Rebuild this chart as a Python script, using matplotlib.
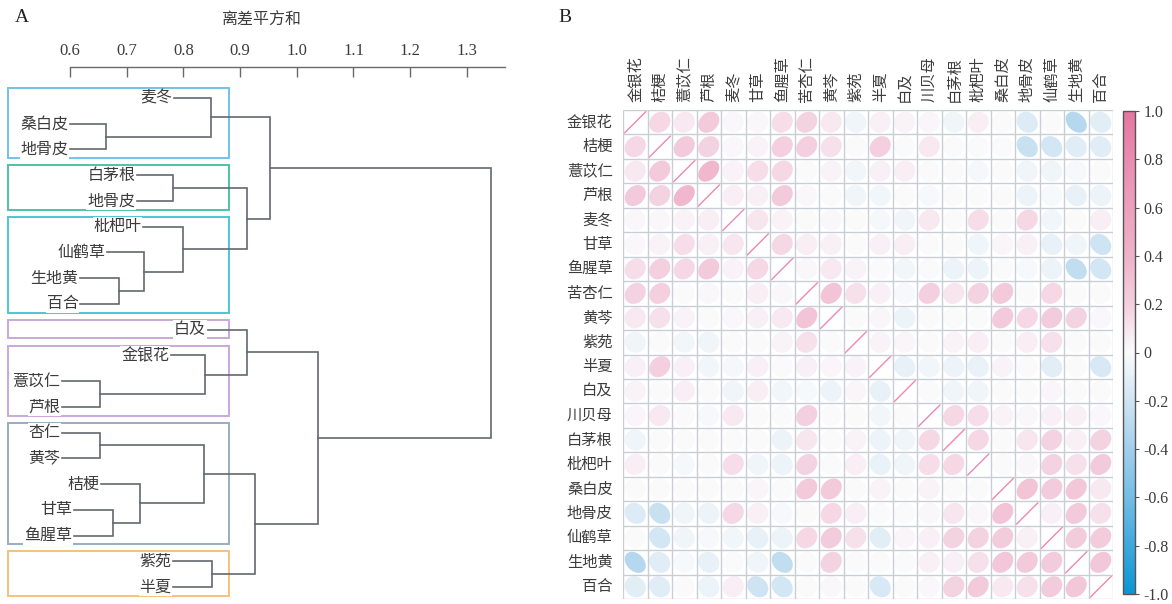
import numpy as np
import matplotlib
matplotlib.use("Agg")
import matplotlib.pyplot as plt
from matplotlib.colors import LinearSegmentedColormap, Normalize
from matplotlib.patches import Polygon, Rectangle
from matplotlib.cm import ScalarMappable

plt.rcParams['font.family'] = ['Noto Sans CJK SC', 'DejaVu Sans']

# ---------------- data: cluster dendrogram (panel A) ----------------
leaf_labels = ["麦冬", "桑白皮", "地骨皮", "白茅根", "地骨皮", "枇杷叶", "仙鹤草",
               "生地黄", "百合", "白及", "金银花", "薏苡仁", "芦根", "杏仁", "黄芩",
               "桔梗", "甘草", "鱼腥草", "紫苑", "半夏"]
leaf_start = [0.783, 0.600, 0.600, 0.718, 0.718, 0.729, 0.665, 0.618, 0.618,
              0.843, 0.778, 0.586, 0.586, 0.586, 0.586, 0.655, 0.607, 0.607,
              0.782, 0.782]
# linkage: node ids 0..19 are leaves, merge k creates node 20+k
merge_left = [1, 0, 3, 7, 6, 5, 22, 21, 11, 10, 9, 13, 16, 15, 31, 18, 34, 30, 27]
merge_right = [2, 20, 4, 8, 23, 24, 25, 26, 12, 28, 29, 14, 17, 32, 33, 19, 35, 36, 37]
merge_height = [0.663, 0.849, 0.782, 0.686, 0.730, 0.799, 0.912, 0.953, 0.653,
                0.838, 0.912, 0.653, 0.676, 0.723, 0.836, 0.850, 0.926, 1.037, 1.342]
scale_ticks = [0.6, 0.7, 0.8, 0.9, 1.0, 1.1, 1.2, 1.3]

# groups outlined by coloured frames (first leaf, last leaf)
group_first = [0, 3, 5, 9, 10, 13, 18]
group_last = [2, 4, 8, 9, 12, 17, 19]
group_colors = ["#72c2ea", "#4cc3a5", "#4ec5d2", "#c9a8da", "#c9a8da", "#9aacbf", "#f7c07c"]

# ---------------- data: correlation matrix (panel B) ----------------
herbs = ["金银花", "桔梗", "薏苡仁", "芦根", "麦冬", "甘草", "鱼腥草", "苦杏仁", "黄芩",
         "紫苑", "半夏", "白及", "川贝母", "白茅根", "枇杷叶", "桑白皮", "地骨皮",
         "仙鹤草", "生地黄", "百合"]
# upper triangle, row i holds columns i+1 .. 19
corr_upper = [
    [0.16, 0.08, 0.24, 0.02, 0.02, 0.14, 0.18, 0.08, -0.05, 0.05, 0.04, 0.03, -0.05, 0.06, 0.00, -0.14, 0.00, -0.32, -0.11],
    [0.24, 0.18, 0.02, 0.04, 0.20, 0.20, 0.12, 0.00, 0.20, 0.00, 0.08, 0.00, 0.00, 0.00, -0.23, -0.18, -0.12, -0.12],
    [0.36, 0.04, 0.14, 0.16, 0.00, 0.04, -0.04, 0.05, 0.06, 0.00, 0.00, -0.03, 0.00, -0.05, -0.05, -0.02, 0.00],
    [0.06, 0.05, 0.24, 0.02, 0.00, -0.05, -0.04, 0.00, -0.02, 0.00, 0.00, 0.00, -0.06, -0.02, -0.09, -0.07],
    [0.10, 0.04, 0.00, 0.02, 0.00, -0.03, -0.05, 0.08, 0.00, 0.14, 0.00, 0.16, -0.04, 0.00, 0.06],
    [0.16, 0.06, 0.05, 0.00, 0.05, 0.06, 0.00, 0.00, -0.05, 0.03, 0.05, -0.09, -0.05, -0.20],
    [0.02, 0.08, 0.04, 0.00, -0.04, 0.00, -0.06, -0.07, 0.00, -0.02, -0.06, -0.26, -0.18],
    [0.28, 0.12, 0.05, -0.02, 0.20, 0.10, 0.18, 0.24, 0.00, 0.16, 0.00, 0.00],
    [0.00, 0.03, -0.07, 0.00, 0.00, 0.00, 0.24, 0.16, 0.22, 0.18, 0.02],
    [0.04, 0.03, 0.00, 0.04, 0.06, 0.00, 0.06, 0.12, 0.00, 0.00],
    [-0.09, -0.04, -0.07, -0.08, 0.04, 0.00, -0.11, 0.00, -0.16],
    [0.00, -0.05, -0.05, 0.00, 0.00, 0.03, 0.00, 0.00],
    [0.16, 0.14, 0.04, 0.02, 0.05, 0.05, 0.02],
    [0.16, 0.00, 0.10, 0.18, 0.05, 0.18],
    [0.00, 0.02, 0.18, 0.12, 0.24],
    [0.28, 0.22, 0.26, 0.08],
    [0.05, 0.24, 0.12],
    [0.22, 0.22],
    [0.26],
]
cbar_ticks = [1.0, 0.8, 0.6, 0.4, 0.2, 0.0, -0.2, -0.4, -0.6, -0.8, -1.0]

# ---------------- figure ----------------
W, H = 1172, 604
fig = plt.figure(figsize=(W / 100, H / 100), dpi=100)


def px_axes(x0, y0, x1, y1):
    return fig.add_axes([x0 / W, 1 - y1 / H, (x1 - x0) / W, (y1 - y0) / H])


serif = ['Liberation Serif', 'DejaVu Serif']
text_color = "#3c3c3c"
line_color = "#63686d"

# ---------------- panel A ----------------
axd = px_axes(0, 67, 520, 604)
axd.set_xlim(0.4765, 1.3937)
axd.set_ylim(19.66, -1.204)
for s in ["left", "right", "bottom"]:
    axd.spines[s].set_visible(False)
axd.spines["top"].set_bounds(0.6, 1.367)
axd.spines["top"].set_color("#6a6a6a")
axd.spines["top"].set_linewidth(1.0)
axd.xaxis.tick_top()
axd.set_xticks(scale_ticks)
axd.set_xticklabels([f"{v:.1f}" for v in scale_ticks], family=serif, fontsize=12,
                    color=text_color)
axd.tick_params(axis="x", direction="in", length=7, width=1.0, color="#6a6a6a", pad=5.5)
axd.set_yticks([])

n = len(leaf_labels)
node_x = {i: leaf_start[i] for i in range(n)}
node_y = {i: float(i) for i in range(n)}
for k, (a, b, h) in enumerate(zip(merge_left, merge_right, merge_height)):
    ya, yb = node_y[a], node_y[b]
    axd.plot([node_x[a], h, h, node_x[b]], [ya, ya, yb, yb], color=line_color,
             lw=1.2, solid_joinstyle="miter", zorder=2, clip_on=False)
    node_x[n + k] = h
    node_y[n + k] = (ya + yb) / 2

box_x0, box_x1 = 0.4907, 0.8804
for f, l, c in zip(group_first, group_last, group_colors):
    axd.add_patch(Rectangle((box_x0, f - 0.38), box_x1 - box_x0, (l - f) + 0.72,
                            fill=False, ec=c, lw=1.4, zorder=1, clip_on=False))

for i, lab in enumerate(leaf_labels):
    axd.text(leaf_start[i] - 0.003, i, lab, ha="right", va="center", fontsize=11.5,
             color=text_color, zorder=3,
             bbox=dict(boxstyle="square,pad=0.05", fc="white", ec="none"))

fig.text(262 / W, 1 - 20 / H, "离差平方和", ha="center", va="center", fontsize=11.5,
         color=text_color)
fig.text(22 / W, 1 - 18 / H, "A", ha="center", va="center", fontsize=14,
         family=serif, color="#222222")

# ---------------- panel B ----------------
m = len(herbs)
C = np.eye(m)
for i, row in enumerate(corr_upper):
    for k, v in enumerate(row):
        j = i + 1 + k
        C[i, j] = v
        C[j, i] = v

cmap = LinearSegmentedColormap.from_list(
    "corr",
    [(0.0, "#0a95d5"), (0.1, "#3ea8de"), (0.2, "#74bee6"), (0.3, "#a2cfec"),
     (0.4, "#cfe4f2"), (0.5, "#fafbfc"), (0.6, "#f4d0de"), (0.7, "#efb2c9"),
     (0.8, "#eda0bd"), (0.9, "#ea8cb0"), (1.0, "#e6769f")])
norm = Normalize(-1, 1)

axm = px_axes(623, 110, 1113, 599)
axm.set_xlim(0, m)
axm.set_ylim(m, 0)
axm.axis("off")

t = np.linspace(0, 2 * np.pi, 90)
size = 0.86
for i in range(m):
    for j in range(m):
        r = C[i, j]
        cx, cy = j + 0.5, i + 0.5
        if i == j:
            d = size / 2
            axm.plot([cx - d, cx + d], [cy + d, cy - d], color="#ee88ae", lw=1.0,
                     zorder=2)
            continue
        a = np.arccos(r) / 2
        ex = size * np.cos(t + a) / 2
        ey = size * np.cos(t - a) / 2
        axm.add_patch(Polygon(np.column_stack([cx + ex, cy - ey]), closed=True,
                              fc=cmap(norm(r)), ec="none", zorder=2))

grid_color = "#c9cdd5"
axm.vlines(np.arange(m + 1), 0, m, colors=grid_color, lw=1.0, zorder=3)
axm.hlines(np.arange(m + 1), 0, m, colors=grid_color, lw=1.0, zorder=3)

for i, lab in enumerate(herbs):
    axm.text(-0.42, i + 0.5, lab, ha="right", va="center", fontsize=11,
             color=text_color, clip_on=False)
    axm.text(i + 0.5, -0.33, lab, ha="center", va="bottom", rotation=90,
             fontsize=11, color=text_color, clip_on=False)

fig.text(565 / W, 1 - 18 / H, "B", ha="center", va="center", fontsize=14,
         family=serif, color="#222222")

axc = px_axes(1123, 111, 1135, 594)
cb = fig.colorbar(ScalarMappable(norm=norm, cmap=cmap), cax=axc)
cb.outline.set_edgecolor("#555555")
cb.outline.set_linewidth(1.0)
cb.set_ticks(cbar_ticks)
cb.set_ticklabels(["0" if v == 0 else f"{v:.1f}" for v in cbar_ticks])
axc.tick_params(length=3, width=0.8, color="#555555", pad=3)
for tl in axc.get_yticklabels():
    tl.set_family(serif)
    tl.set_fontsize(11.5)
    tl.set_color(text_color)

fig.savefig("out.png", dpi=100)
